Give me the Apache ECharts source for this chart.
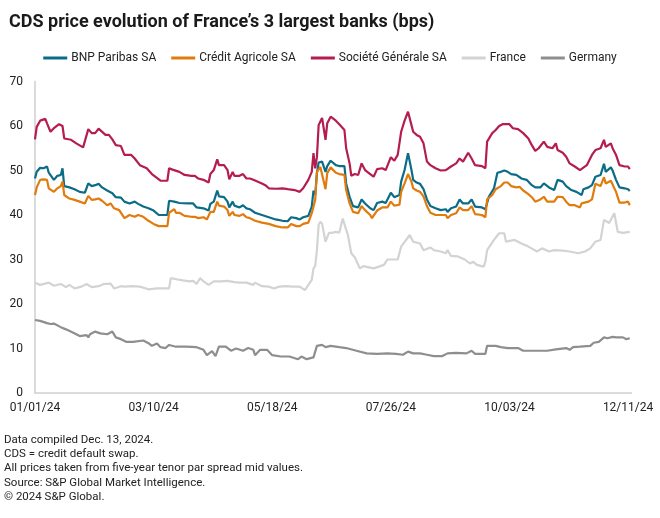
<!DOCTYPE html>
<html>
<head>
<meta charset="utf-8">
<script src="https://cdn.jsdelivr.net/npm/echarts@6/dist/echarts.min.js"></script>
<style>
html,body{margin:0;padding:0;background:#fff;}
#c{width:660px;height:518px;}
</style>
</head>
<body>
<div id="c"></div>
<script>
// x values are day offsets from 01/01/24
const xTickLabels = ['01/01/24','03/10/24','05/18/24','07/26/24','10/03/24','12/11/24'];
const seriesNames = ['BNP Paribas SA','Crédit Agricole SA','Société Générale SA','France','Germany'];

const bnp = [[0,48.2],[1,49.7],[3,50.6],[5,50.5],[7,50.9],[8,49.5],[11,47.9],[13,48.8],[15,49.0],[16,50.5],[17,46.5],[20,46.2],[23,45.8],[26,45.2],[29,45.0],[31,47.1],[33,46.5],[35,46.7],[37,47.0],[39,46.2],[42,45.5],[45,44.9],[47,44.0],[50,43.9],[52,43.0],[55,42.6],[58,43.0],[60,42.5],[63,41.9],[66,41.5],[69,41.0],[72,40.0],[77,40.0],[78,43.2],[81,43.0],[82,42.6],[84,42.7],[89,42.6],[92,42.6],[94,41.7],[98,41.5],[101,41.0],[102,42.5],[104,43.0],[106,45.5],[107,44.2],[110,44.0],[112,43.0],[113,41.7],[115,43.0],[116,42.1],[119,41.7],[121,42.2],[123,41.5],[125,41.3],[128,40.5],[132,40.0],[136,39.5],[140,39.0],[144,38.7],[147,38.6],[149,39.5],[152,39.3],[154,39.0],[156,39.5],[159,39.8],[161,41.9],[162,45.5],[163,44.5],[164,49.4],[165,51.8],[167,52.0],[169,49.7],[170,51.0],[172,52.2],[175,51.2],[177,51.0],[178,51.2],[180,51.0],[181,47.1],[183,44.1],[185,42.0],[188,41.7],[190,43.5],[192,42.6],[195,41.5],[197,41.1],[199,42.7],[202,43.0],[204,42.7],[207,45.0],[209,44.0],[212,44.5],[213,47.5],[215,50.1],[217,53.9],[219,50.1],[220,47.9],[222,47.3],[224,47.0],[226,45.8],[228,43.5],[230,42.0],[233,41.5],[236,41.1],[239,41.3],[240,40.7],[242,41.5],[245,41.9],[247,43.5],[249,42.6],[252,42.6],[254,43.5],[256,41.9],[260,41.7],[262,41.3],[264,44.1],[267,46.0],[269,49.5],[271,49.7],[273,50.0],[275,49.7],[277,49.2],[280,49.0],[283,48.2],[286,47.9],[289,46.7],[291,46.2],[294,46.2],[296,47.1],[299,46.2],[302,45.6],[304,47.9],[307,47.5],[309,46.5],[312,45.6],[315,45.2],[318,44.5],[319,45.8],[322,46.2],[324,46.7],[326,48.6],[329,49.0],[331,51.5],[332,49.7],[335,50.7],[336,50.0],[338,47.9],[340,46.2],[343,46.0],[345,45.8],[346,45.4]];

const ca = [[0,44.5],[1,46.2],[3,47.9],[5,48.0],[7,47.9],[8,46.0],[11,45.2],[13,46.0],[15,46.5],[16,47.5],[17,44.5],[20,43.7],[23,43.4],[26,43.0],[29,42.6],[31,44.3],[33,43.4],[35,43.5],[37,43.7],[39,43.2],[42,42.2],[44,42.6],[46,41.5],[49,41.1],[52,39.3],[55,40.0],[58,39.6],[60,40.0],[63,39.6],[66,38.7],[69,38.0],[72,37.5],[77,37.5],[78,40.5],[81,41.3],[82,40.5],[84,40.5],[87,39.8],[91,39.6],[93,39.6],[95,39.3],[98,39.5],[100,39.0],[102,40.7],[104,40.7],[106,43.0],[107,42.1],[110,41.9],[112,41.1],[113,39.8],[115,40.7],[116,40.0],[119,39.8],[121,40.2],[123,39.5],[125,39.3],[128,38.7],[132,38.3],[136,38.0],[140,37.5],[144,37.2],[147,37.2],[149,38.0],[152,37.5],[154,37.5],[156,38.0],[159,38.3],[161,40.4],[163,43.4],[164,49.7],[166,50.8],[167,50.9],[169,45.8],[170,49.4],[172,50.7],[175,49.5],[177,49.2],[178,49.4],[180,49.0],[181,45.6],[183,42.6],[185,40.7],[188,40.4],[190,42.0],[192,41.1],[195,40.0],[196,39.3],[199,41.0],[202,41.7],[205,41.7],[207,43.0],[209,42.1],[212,42.3],[213,45.2],[215,47.1],[217,49.2],[219,47.5],[220,46.0],[222,45.5],[224,45.2],[226,44.2],[228,42.0],[230,40.5],[233,40.0],[236,40.0],[239,40.0],[240,39.3],[242,40.0],[245,40.4],[247,41.7],[249,41.1],[252,41.1],[254,42.0],[256,40.2],[260,40.0],[262,39.5],[263,43.5],[266,44.5],[268,45.8],[271,46.5],[273,47.3],[275,47.3],[277,46.5],[280,46.2],[282,46.3],[284,45.5],[287,44.7],[289,44.0],[291,43.0],[294,43.5],[296,44.1],[298,43.0],[302,43.0],[304,44.1],[307,44.0],[309,43.0],[311,42.2],[314,42.2],[317,41.7],[318,42.6],[322,43.0],[324,43.5],[326,47.0],[329,46.5],[331,48.5],[332,47.1],[335,47.7],[336,47.3],[338,45.2],[340,42.8],[343,42.8],[345,43.0],[346,42.2]];

const sg = [[0,57.0],[1,59.8],[3,61.2],[6,61.6],[7,60.6],[9,58.7],[11,59.5],[14,60.4],[16,60.0],[17,57.2],[21,56.9],[24,56.1],[28,55.2],[29,55.3],[31,59.3],[33,58.4],[35,58.4],[37,59.4],[38,59.2],[41,58.0],[43,58.0],[45,57.0],[47,55.7],[50,55.5],[52,53.5],[56,53.5],[58,52.7],[61,51.2],[65,50.5],[68,49.2],[73,47.7],[77,47.7],[78,50.5],[80,50.2],[81,50.5],[84,49.7],[87,49.0],[91,48.8],[93,48.8],[95,48.2],[98,47.9],[101,47.3],[102,49.2],[104,50.1],[106,52.5],[107,51.2],[110,51.2],[112,50.1],[113,48.0],[115,49.7],[116,48.8],[119,48.8],[121,49.2],[123,48.2],[125,48.2],[127,47.9],[132,47.1],[134,46.7],[136,46.0],[140,45.9],[144,46.0],[147,45.8],[151,45.6],[154,45.2],[156,46.0],[159,47.9],[161,49.7],[162,53.9],[163,50.5],[164,53.0],[165,60.2],[166,61.0],[167,61.8],[169,56.9],[170,60.6],[172,62.1],[175,61.2],[177,60.4],[178,60.2],[180,59.1],[181,55.0],[183,51.6],[184,48.8],[186,49.2],[188,49.0],[190,51.6],[192,50.1],[195,49.2],[197,48.6],[199,50.3],[202,50.5],[204,50.1],[207,53.0],[209,52.2],[211,53.5],[213,58.7],[215,61.2],[217,63.2],[219,60.2],[220,58.7],[222,58.0],[224,57.6],[226,56.1],[228,52.0],[230,51.2],[233,50.5],[236,50.0],[239,50.1],[240,49.7],[242,50.9],[245,51.6],[247,52.7],[249,52.0],[252,54.0],[254,52.7],[256,51.2],[260,51.0],[262,50.5],[263,56.5],[266,58.4],[268,59.1],[270,60.0],[272,60.4],[274,60.4],[276,60.4],[278,59.5],[281,59.3],[284,58.4],[287,57.2],[289,55.7],[291,54.4],[293,55.0],[296,56.5],[298,55.3],[301,55.0],[303,56.1],[304,54.6],[307,54.0],[309,53.1],[311,51.6],[314,50.9],[317,50.1],[318,50.5],[321,51.2],[324,53.5],[326,54.6],[329,55.0],[331,56.9],[332,55.3],[335,56.1],[336,55.0],[338,53.5],[340,51.2],[343,50.9],[345,50.9],[346,50.3]];

const france = [[0,24.8],[3,24.3],[8,24.8],[11,24.1],[15,24.5],[18,23.8],[20,24.3],[23,23.5],[27,23.9],[30,24.5],[33,23.8],[37,24.0],[40,24.5],[44,24.6],[46,23.5],[50,24.0],[52,23.9],[56,24.0],[61,23.9],[66,23.3],[71,23.5],[78,23.5],[79,25.8],[83,25.5],[86,25.3],[90,25.1],[92,25.2],[94,24.5],[96,25.8],[98,25.1],[101,24.3],[104,25.1],[108,25.1],[112,25.2],[116,24.9],[119,24.8],[123,24.8],[127,24.3],[128,24.8],[132,24.0],[136,23.9],[139,23.5],[142,23.9],[146,24.0],[150,23.9],[154,23.9],[157,23.1],[158,23.5],[161,25.4],[162,28.0],[163,28.5],[164,32.1],[165,37.8],[166,38.5],[167,38.0],[169,34.0],[171,36.0],[173,36.0],[175,36.2],[177,36.0],[179,39.2],[182,35.5],[184,31.4],[186,30.5],[189,28.0],[191,28.5],[197,28.0],[203,28.8],[205,30.0],[211,30.0],[213,32.9],[218,35.5],[220,34.0],[224,33.6],[226,32.1],[230,32.7],[232,32.1],[236,31.8],[239,31.4],[240,32.1],[242,30.8],[246,30.7],[250,30.0],[253,29.1],[255,29.5],[257,28.8],[261,28.4],[262,29.5],[263,32.1],[267,34.4],[270,35.9],[273,35.9],[274,34.0],[279,34.4],[283,33.6],[287,32.9],[292,31.8],[295,32.5],[299,31.8],[302,32.1],[307,32.0],[311,31.8],[316,31.4],[320,31.8],[323,32.5],[326,34.0],[329,34.4],[331,38.9],[334,38.2],[337,40.4],[339,36.2],[342,36.0],[346,36.2]];

const germany = [[0,16.4],[3,16.2],[7,15.7],[9,15.5],[11,15.6],[15,14.8],[18,14.3],[22,13.6],[26,12.8],[30,13.0],[31,12.5],[32,13.2],[35,13.8],[38,13.4],[42,13.2],[45,13.8],[47,12.5],[50,12.1],[53,11.5],[57,11.5],[63,11.8],[66,11.2],[68,10.6],[71,11.1],[73,10.3],[76,10.1],[78,10.8],[82,10.4],[88,10.4],[94,10.3],[98,9.7],[100,8.5],[103,9.4],[105,8.3],[107,10.4],[111,10.4],[114,9.5],[117,10.0],[121,9.5],[124,10.1],[127,9.7],[128,8.5],[131,9.7],[135,9.7],[138,8.5],[143,8.2],[148,8.2],[153,7.6],[155,8.2],[158,7.6],[162,8.0],[164,10.6],[167,10.8],[169,10.3],[172,10.6],[177,10.3],[181,10.1],[187,9.5],[193,8.9],[199,8.8],[205,8.9],[210,8.8],[214,8.6],[217,9.3],[220,8.9],[224,8.9],[228,8.6],[232,8.3],[237,8.3],[240,8.9],[245,9.0],[251,8.9],[254,9.5],[256,8.8],[262,8.8],[263,10.6],[268,10.6],[271,10.3],[275,10.1],[281,10.1],[284,9.5],[292,9.5],[298,9.5],[303,9.8],[309,10.1],[311,9.7],[313,10.3],[317,10.4],[323,10.6],[325,11.3],[328,11.5],[331,12.5],[333,12.3],[336,12.6],[338,12.5],[342,12.5],[344,12.1],[346,12.3]];

const footnotes = ['Data compiled Dec. 13, 2024.','CDS = credit default swap.','All prices taken from five-year tenor par spread mid values.','Source: S&P Global Market Intelligence.','© 2024 S&P Global.'];

const colors = ['#0b6c87','#e07b0c','#b51d4f','#d3d3d3','#8e8e8e'];
const dataList = [bnp, ca, sg, france, germany];
const FONT = 'Roboto, "Liberation Sans", sans-serif';

const chart = echarts.init(document.getElementById('c'), null, {renderer:'canvas'});
chart.setOption({
  animation:false,
  title:{
    text:"CDS price evolution of France’s 3 largest banks (bps)",
    left:4, top:8,
    textStyle:{fontFamily:FONT, fontSize:18, fontWeight:'bold', color:'#1a1a1a'}
  },
  legend:{
    top:47, left:'center',
    itemWidth:24, itemHeight:3, itemGap:15,
    icon:'rect',
    textStyle:{fontFamily:FONT, fontSize:12, color:'#222', padding:[0,0,0,-1]},
    data:seriesNames
  },
  grid:{left:35, right:28.5, top:81.5, bottom:125},
  xAxis:{
    type:'value', min:0, max:347, interval:69,
    axisLine:{show:true, lineStyle:{color:'#cfcfcf', width:1.5}},
    axisTick:{show:false},
    splitLine:{show:false},
    axisLabel:{
      fontFamily:FONT, fontSize:12, color:'#222', margin:9,
      showMaxLabel:false,
      formatter:function(v){ return (v % 69 === 0) ? xTickLabels[v/69] : ''; }
    }
  },
  yAxis:{
    type:'value', min:0, max:70, interval:10,
    axisLine:{show:true, lineStyle:{color:'#cfcfcf', width:1.5}},
    axisTick:{show:false},
    splitLine:{show:false},
    axisLabel:{fontFamily:FONT, fontSize:12, color:'#222', margin:12}
  },
  series: seriesNames.map(function(n,i){
    return {
      name:n, type:'line', data:dataList[i],
      showSymbol:false, symbol:'none',
      lineStyle:{color:colors[i], width:2.2},
      itemStyle:{color:colors[i]},
      z: i<3 ? 3 : 2
    };
  }),
  graphic:[{
    type:'text', left:4, top:433,
    style:{
      text:footnotes.join('\n'),
      font:'11.5px ' + FONT,
      lineHeight:14.2,
      fill:'#222'
    }
  }]
});
</script>
</body>
</html>
